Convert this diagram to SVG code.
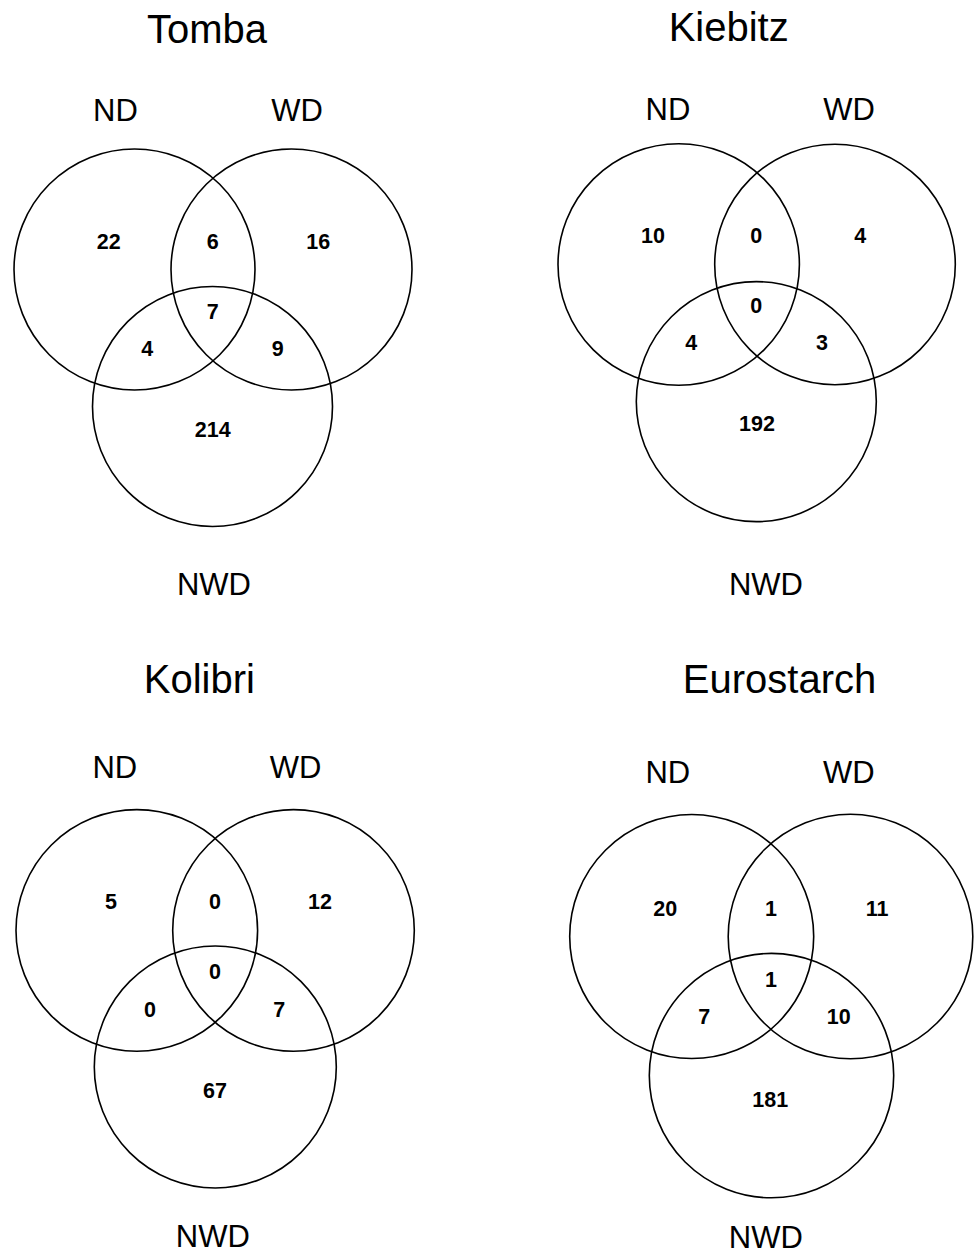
<svg xmlns="http://www.w3.org/2000/svg" width="975" height="1256" viewBox="0 0 975 1256">
<style>
.c{fill:none;stroke:#000;stroke-width:1.6}
.t{font-family:"Liberation Sans",Arial,sans-serif;font-size:40px;text-anchor:middle;fill:#000}
.l{font-family:"Liberation Sans",Arial,sans-serif;font-size:31px;text-anchor:middle;fill:#000}
.n{font-family:"Liberation Sans",Arial,sans-serif;font-size:21.5px;font-weight:bold;text-anchor:middle;fill:#000}
</style>
<rect width="975" height="1256" fill="#fff"/>
<g id="tomba">
<text class="t" x="207" y="43">Tomba</text>
<g id="tomba-nd"><circle class="c" cx="134.5" cy="269.5" r="120.5"/><text class="l" x="115.5" y="121">ND</text></g>
<g id="tomba-wd"><circle class="c" cx="291.5" cy="269.5" r="120.5"/><text class="l" x="297" y="121">WD</text></g>
<g id="tomba-nwd"><circle class="c" cx="212.5" cy="406.5" r="120"/><text class="l" x="214" y="595">NWD</text></g>
<text class="n" x="108.7" y="248.5">22</text>
<text class="n" x="212.7" y="248.5">6</text>
<text class="n" x="318.3" y="248.5">16</text>
<text class="n" x="212.7" y="319">7</text>
<text class="n" x="147.3" y="355.5">4</text>
<text class="n" x="277.7" y="355.5">9</text>
<text class="n" x="212.7" y="437">214</text>
</g>
<g id="kiebitz">
<text class="t" x="728.7" y="41">Kiebitz</text>
<g id="kiebitz-nd"><circle class="c" cx="678.7" cy="264.5" r="120.7"/><text class="l" x="668" y="120">ND</text></g>
<g id="kiebitz-wd"><circle class="c" cx="835" cy="264.5" r="120.3"/><text class="l" x="849" y="120">WD</text></g>
<g id="kiebitz-nwd"><circle class="c" cx="756.3" cy="401.6" r="120"/><text class="l" x="766" y="594.5">NWD</text></g>
<text class="n" x="653" y="242.5">10</text>
<text class="n" x="756.3" y="242.5">0</text>
<text class="n" x="860.3" y="242.5">4</text>
<text class="n" x="756.3" y="313">0</text>
<text class="n" x="691.3" y="350">4</text>
<text class="n" x="822" y="350">3</text>
<text class="n" x="757" y="431">192</text>
</g>
<g id="kolibri">
<text class="t" x="199.3" y="692.5">Kolibri</text>
<g id="kolibri-nd"><circle class="c" cx="136.8" cy="930.4" r="120.8"/><text class="l" x="114.8" y="778.4">ND</text></g>
<g id="kolibri-wd"><circle class="c" cx="293.5" cy="930.4" r="120.8"/><text class="l" x="295.7" y="778.4">WD</text></g>
<g id="kolibri-nwd"><circle class="c" cx="215.3" cy="1067" r="121"/><text class="l" x="212.8" y="1247">NWD</text></g>
<text class="n" x="111" y="908.5">5</text>
<text class="n" x="215" y="908.5">0</text>
<text class="n" x="320" y="908.5">12</text>
<text class="n" x="215" y="979.3">0</text>
<text class="n" x="150" y="1016.5">0</text>
<text class="n" x="279.3" y="1016.5">7</text>
<text class="n" x="215" y="1097.5">67</text>
</g>
<g id="eurostarch">
<text class="t" x="779.5" y="692.5">Eurostarch</text>
<g id="eurostarch-nd"><circle class="c" cx="691.7" cy="936.5" r="122"/><text class="l" x="667.8" y="783.2">ND</text></g>
<g id="eurostarch-wd"><circle class="c" cx="850.5" cy="936.5" r="122.3"/><text class="l" x="848.8" y="783.2">WD</text></g>
<g id="eurostarch-nwd"><circle class="c" cx="771.5" cy="1075.6" r="122.2"/><text class="l" x="765.8" y="1248">NWD</text></g>
<text class="n" x="665.3" y="915.5">20</text>
<text class="n" x="771" y="915.5">1</text>
<text class="n" x="877" y="915.5">11</text>
<text class="n" x="771" y="986.5">1</text>
<text class="n" x="704.3" y="1023.5">7</text>
<text class="n" x="838.7" y="1023.5">10</text>
<text class="n" x="770.3" y="1107">181</text>
</g>
<g id="connectors"/>
</svg>
